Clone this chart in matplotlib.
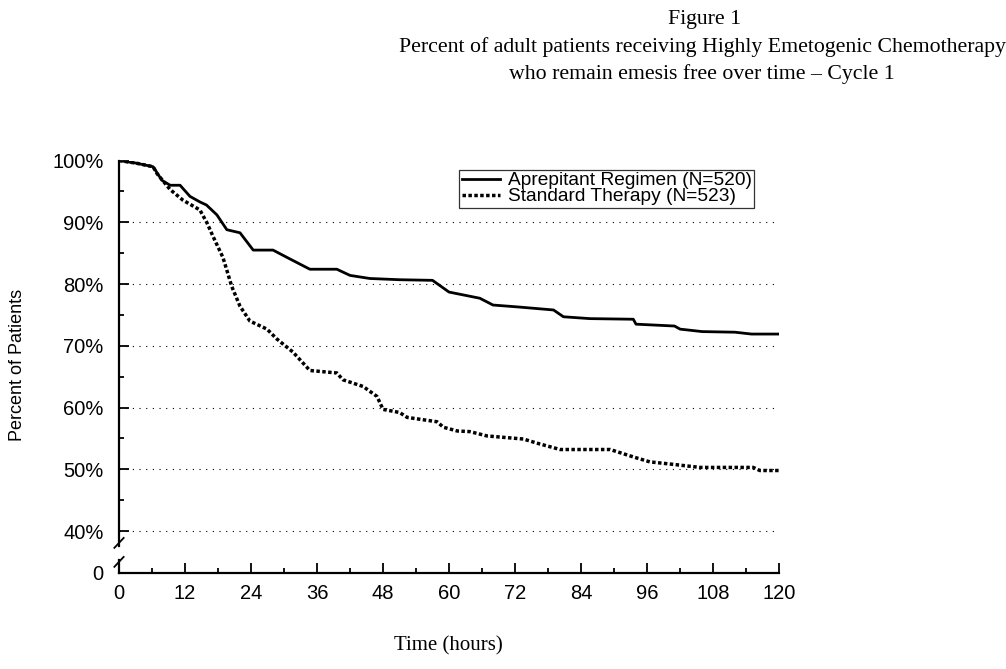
# Figure 1: percent of patients emesis free over time, cycle 1

import matplotlib
matplotlib.use('Agg')
import matplotlib.pyplot as plt

# hours and percent for each arm
aprep_hours = [0, 3, 6.2, 7.8, 9.3, 11.1, 12.9, 14.7, 15.9, 17.8, 19.6, 22, 24.4, 28,
               31, 34.7, 39.6, 42, 45.6, 51, 57, 60, 65.6, 68, 72.4, 79, 80.8, 85.6,
               93.5, 94, 101, 102, 106, 112, 115, 120]
aprep_pct = [100, 99.6, 99.0, 96.8, 96.0, 96.0, 94.2, 93.3, 92.8, 91.2, 88.8, 88.3, 85.5, 85.5,
             84.1, 82.4, 82.4, 81.4, 80.9, 80.7, 80.6, 78.7, 77.7, 76.6, 76.3, 75.8, 74.7, 74.4,
             74.3, 73.5, 73.2, 72.7, 72.3, 72.2, 71.9, 71.9]

std_hours = [0, 3, 6.2, 6.9, 9.3, 11.6, 14.7, 16, 17.1, 18.9, 20.5, 22, 23.8, 26.9, 28.7,
             31.6, 34.7, 39.6, 40.7, 44.4, 46.9, 48, 51, 52.4, 57.8, 59, 61.5, 63.8, 66.9,
             73.5, 76.5, 80.2, 89.3, 93.5, 96.5, 100.7, 105.6, 115.3, 116.5, 120]
std_pct = [100, 99.6, 99.0, 97.9, 95.3, 93.6, 92.0, 89.9, 87.7, 84.3, 79.6, 76.4, 74.0, 72.7, 71.1,
           69.0, 66.0, 65.6, 64.5, 63.4, 61.8, 59.7, 59.2, 58.4, 57.7, 56.8, 56.2, 56.1, 55.4,
           54.9, 54.1, 53.2, 53.2, 52.0, 51.2, 50.8, 50.3, 50.3, 49.8, 49.8]

x_ticks = list(range(0, 121, 12))
y_ticks = [40, 50, 60, 70, 80, 90, 100]
y_labels = ['40%', '50%', '60%', '70%', '80%', '90%', '100%']
y_zero = 33.2   # where the broken axis shows "0"

sans = ['Liberation Sans', 'DejaVu Sans']
serif = ['Liberation Serif', 'DejaVu Serif']
plt.rcParams['font.family'] = sans

fig = plt.figure(figsize=(10.06, 6.69), dpi=100)
ax = fig.add_axes([0.1183, 0.1435, 0.6561, 0.6165])

# gridlines
for v in y_ticks[:-1]:
    ax.axhline(v, color='black', lw=0.8, linestyle=(0, (1, 5)), zorder=1)

ax.plot(aprep_hours, aprep_pct, color='black', lw=2.0,
        label='Aprepitant Regimen (N=520)', zorder=3)
ax.plot(std_hours, std_pct, color='black', lw=2.5, linestyle=(0, (1.0, 0.7)),
        label='Standard Therapy (N=523)', zorder=3)

ax.set_xlim(0, 120)
ax.set_ylim(y_zero, 100)
ax.set_xticks(x_ticks)
ax.set_xticks(range(6, 120, 12), minor=True)
ax.set_yticks([y_zero] + y_ticks)
ax.set_yticklabels(['0'] + y_labels)
ax.set_yticks([45, 55, 65, 75, 85, 95], minor=True)
ax.tick_params(axis='both', which='major', direction='in', length=7, width=1.3,
               labelsize=14.5)
ax.tick_params(axis='both', which='minor', direction='in', length=3.5, width=1.3)
ax.tick_params(axis='y', pad=11)
ax.tick_params(axis='x', pad=8)

for s in ['top', 'right']:
    ax.spines[s].set_visible(False)
ax.spines['bottom'].set_linewidth(1.6)
ax.spines['left'].set_linewidth(1.6)
ax.spines['left'].set_bounds(37.6, 100)

# lower stub of the broken y axis and the break marks
ax.plot([0, 0], [0, 0.032], transform=ax.transAxes, color='black', lw=1.6, clip_on=False)
for yc in [0.073, 0.027]:
    ax.plot([-0.007, 0.007], [yc - 0.012, yc + 0.012], transform=ax.transAxes,
            color='black', lw=1.3, clip_on=False)

leg = ax.legend(loc='upper right', bbox_to_anchor=(0.962, 0.978), fontsize=13.8,
                frameon=True, fancybox=False, edgecolor='black', handlelength=2.0,
                handletextpad=0.4, borderpad=0.12, labelspacing=-0.07, borderaxespad=0)
leg.get_frame().set_linewidth(0.9)

fig.text(0.017, 0.454, 'Percent of Patients', fontsize=13, rotation=90,
         ha='center', va='center')
fig.text(0.446, 0.034, 'Time (hours)', family=serif, fontsize=15, ha='center', va='center')

fig.text(0.700, 0.971, 'Figure 1', family=serif, fontsize=15.7, ha='center', va='center')
fig.text(0.698, 0.930, 'Percent of adult patients receiving Highly Emetogenic Chemotherapy',
         family=serif, fontsize=15.7, ha='center', va='center')
fig.text(0.698, 0.889, 'who remain emesis free over time \u2013 Cycle 1',
         family=serif, fontsize=15.7, ha='center', va='center')

fig.savefig('out.png', dpi=100)
